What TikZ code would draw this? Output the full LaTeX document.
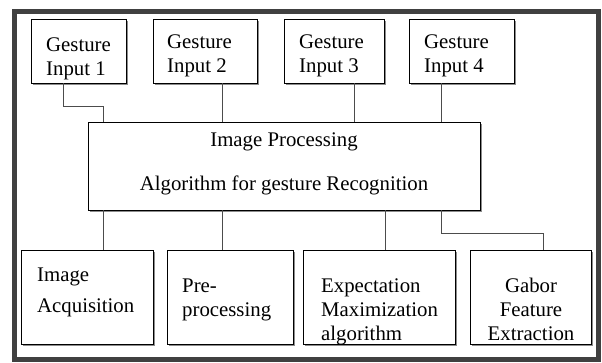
\documentclass[tikz,border=0pt]{standalone}
\usepackage{fontspec}
\setmainfont{Liberation Serif}
\usetikzlibrary{shadows}
\begin{document}
\begin{tikzpicture}[x=1pt,y=-1pt,
  box/.style={draw=black, line width=0.9pt, fill=white, inner sep=0pt,
    drop shadow={shadow xshift=1.8pt, shadow yshift=-1.8pt, fill=black!45, opacity=1}},
  txt/.style={inner sep=0pt, font=\fontsize{20.8}{24}\selectfont},
  conn/.style={draw=black!70, line width=0.9pt}]
\useasboundingbox (0,0) rectangle (602,363);
\fill[white] (0,0) rectangle (602,363);
\draw[line width=5pt, draw=black!75] (14.5,11.5) rectangle (598.5,359.5);

% top boxes
\node[box, minimum width=95pt, minimum height=64pt] (gi1) at (78.5,51) {};
\node[box, minimum width=104pt, minimum height=64pt] (gi2) at (205,51) {};
\node[box, minimum width=100pt, minimum height=64pt] (gi3) at (334,51) {};
\node[box, minimum width=105pt, minimum height=64pt] (gi4) at (461.5,51) {};
% main box
\node[box, minimum width=392pt, minimum height=88pt] (main) at (284,166) {};
% bottom boxes
\node[box, minimum width=132pt, minimum height=94pt] (ia) at (87,297) {};
\node[box, minimum width=126pt, minimum height=94pt] (pp) at (230,297) {};
\node[box, minimum width=152pt, minimum height=94pt] (em) at (379,297) {};
\node[box, minimum width=121pt, minimum height=94pt] (gf) at (530.5,297) {};

% texts
\node[txt, anchor=base west] (t1) at (46,52) {\begin{tabular}[t]{@{}l@{}}Gesture\\Input 1\end{tabular}};
\node[txt, anchor=base west] (t2) at (167,49) {\begin{tabular}[t]{@{}l@{}}Gesture\\Input 2\end{tabular}};
\node[txt, anchor=base west] (t3) at (299,49) {\begin{tabular}[t]{@{}l@{}}Gesture\\Input 3\end{tabular}};
\node[txt, anchor=base west] (t4) at (424,49) {\begin{tabular}[t]{@{}l@{}}Gesture\\Input 4\end{tabular}};
\node[txt, anchor=base] (tm1) at (284,147) {Image Processing};
\node[txt, anchor=base] (tm2) at (284,191) {Algorithm for gesture Recognition};
\node[txt, anchor=base west] (t5) at (37,282) {\begin{tabular}[t]{@{}l@{}}Image\\[6pt]Acquisition\end{tabular}};
\node[txt, anchor=base west] (t6) at (182,292) {\begin{tabular}[t]{@{}l@{}}Pre-\\processing\end{tabular}};
\node[txt, anchor=base west] (t7) at (321,292) {\begin{tabular}[t]{@{}l@{}}Expectation\\Maximization\\algorithm\end{tabular}};
\node[txt, anchor=base] (t8) at (531,292) {\begin{tabular}[t]{@{}c@{}}Gabor\\Feature\\Extraction\end{tabular}};

% connectors top
\draw[conn] ([xshift=-15.5pt]gi1.south) -- ++(0,23) -| ([xshift=-181pt]main.north);
\draw[conn] ([xshift=17pt]gi2.south) -- ([xshift=17pt]gi2.south |- main.north);
\draw[conn] ([xshift=20pt]gi3.south) -- ([xshift=20pt]gi3.south |- main.north);
\draw[conn] ([xshift=-20.5pt]gi4.south) -- ([xshift=-20.5pt]gi4.south |- main.north);
% connectors bottom
\draw[conn] ([xshift=16pt]ia.north) -- ([xshift=16pt]ia.north |- main.south);
\draw[conn] ([xshift=-8pt]pp.north) -- ([xshift=-8pt]pp.north |- main.south);
\draw[conn] ([xshift=6pt]em.north) -- ([xshift=6pt]em.north |- main.south);
\draw[conn] ([xshift=157pt]main.south) -- ++(0,23) -| ([xshift=12.5pt]gf.north);
\end{tikzpicture}
\end{document}
